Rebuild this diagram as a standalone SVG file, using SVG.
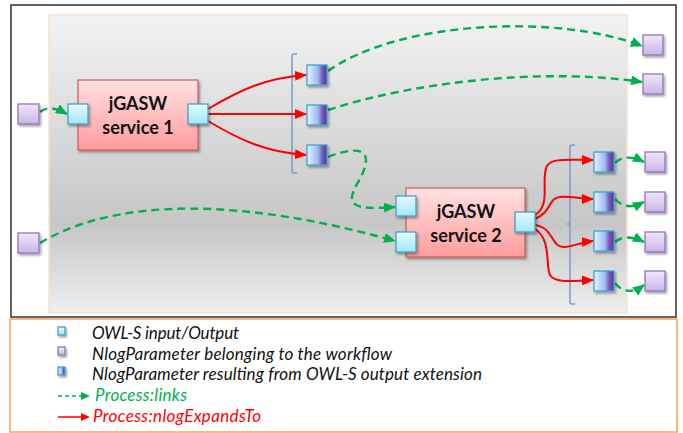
<svg xmlns="http://www.w3.org/2000/svg" width="683" height="433" viewBox="0 0 683 433">
<defs>
<style>
.svc{fill:url(#gSvc);stroke:#d05858;stroke-width:1.2}
.svct{font-family:Lato,"Liberation Sans",sans-serif;font-weight:bold;font-size:18px;fill:#111;text-anchor:middle}
.port{fill:url(#gPort);stroke:#3aa6c6;stroke-width:1.3}
.wf{fill:url(#gWf);stroke:#9474bc;stroke-width:1.3}
.ext{fill:url(#gExt);stroke:#3aa6c6;stroke-width:1.3}
.green{fill:none;stroke:#00b050;stroke-width:2.4;stroke-dasharray:8 5;marker-end:url(#ag)}
.red{fill:none;stroke:#ff0000;stroke-width:2;marker-end:url(#ar)}
.brk{fill:none;stroke:#7e9bc8;stroke-width:1.5}
.leg{font-family:Lato,"Liberation Sans",sans-serif;font-style:italic;font-size:17px;fill:#111}
.sh{filter:url(#sh)}
</style>
<linearGradient id="gPanel" x1="0" y1="0" x2="0" y2="1">
<stop offset="0" stop-color="#f3f3f3"/><stop offset="0.7" stop-color="#c6c6c6"/><stop offset="1" stop-color="#efefef"/>
</linearGradient>
<linearGradient id="gSvc" x1="0" y1="0" x2="0" y2="1">
<stop offset="0" stop-color="#ffe2e2"/><stop offset="1" stop-color="#ff9c9c"/>
</linearGradient>
<linearGradient id="gPort" x1="0" y1="0" x2="0" y2="1">
<stop offset="0" stop-color="#e6faff"/><stop offset="1" stop-color="#a2e6f8"/>
</linearGradient>
<linearGradient id="gWf" x1="0" y1="0" x2="0" y2="1">
<stop offset="0" stop-color="#efe8f8"/><stop offset="1" stop-color="#c8b6e6"/>
</linearGradient>
<linearGradient id="gExt" x1="0" y1="0" x2="1" y2="0">
<stop offset="0" stop-color="#eaf2ff"/><stop offset="0.55" stop-color="#98bcf0"/><stop offset="0.75" stop-color="#7a5cc0"/><stop offset="1" stop-color="#5a2e98"/>
</linearGradient>
<filter id="sh" x="-30%" y="-30%" width="170%" height="170%">
<feDropShadow dx="1.5" dy="2" stdDeviation="1.2" flood-color="#000" flood-opacity="0.35"/>
</filter>
<marker id="ag" markerUnits="userSpaceOnUse" markerWidth="12" markerHeight="10" refX="11" refY="5" orient="auto">
<path d="M0,0 L12,5 L0,10 z" fill="#00b050"/>
</marker>
<marker id="ar" markerUnits="userSpaceOnUse" markerWidth="12" markerHeight="10" refX="11" refY="5" orient="auto">
<path d="M0,0 L12,5 L0,10 z" fill="#ff0000"/>
</marker>
</defs>

<rect width="683" height="433" fill="#fff"/>
<rect x="11" y="5" width="665" height="312" fill="#fff" stroke="#333" stroke-width="1.5"/>
<rect x="49" y="15" width="578" height="298" fill="url(#gPanel)" stroke="#f8e2d2" stroke-width="1.5"/>
<rect x="10" y="319" width="667" height="113" fill="none" stroke="#f9a35c" stroke-width="1.5"/>

<g id="brackets">
<path class="brk" d="M297,54 L294,54 Q292,54 292,56 L292,171 Q292,173 294,173 L297,173"/>
<path class="brk" d="M575,145 L572,145 Q570,145 570,147 L570,302 Q570,304 572,304 L575,304 M567,224 L570,224"/>
</g>

<g id="connectors">
<path class="green" d="M40,112 C48,106 56,108 67,114"/>
<path class="green" d="M40,243 C120,195 250,200 395,241"/>
<path class="green" d="M328,71 C400,20 560,14 642,46"/>
<path class="green" d="M328,110 C420,80 550,68 642,82"/>
<path class="green" d="M328,157 C345,150 366,146 366,160 C366,175 350,190 352,200 C354,210 375,208 395,207"/>
<path class="green" d="M615,163 C622,156 632,156 644,162"/>
<path class="green" d="M615,199 C624,208 632,208 644,202"/>
<path class="green" d="M615,242 C622,236 632,236 644,242"/>
<path class="green" d="M615,283 C622,292 632,294 644,285"/>
<path class="red" d="M208,109 C240,90 265,78 306,75"/>
<path class="red" d="M208,114 L306,114"/>
<path class="red" d="M208,121 C240,140 265,152 306,155"/>
<path class="red" d="M535,215 C552,205 540,178 547,166 C552,158 565,160 593,160"/>
<path class="red" d="M535,219 C552,212 548,198 560,197 C572,196 580,199 593,199"/>
<path class="red" d="M535,225 C555,228 550,248 565,247 C575,246 582,242 593,241"/>
<path class="red" d="M535,229 C552,240 545,265 550,275 C555,283 570,281 593,280"/>
</g>

<g id="service1">
<rect class="svc sh" x="78" y="80" width="120" height="70"/>
<text class="svct" x="138" y="110">jGASW</text>
<text class="svct" x="138" y="134">service 1</text>
</g>
<g id="service2">
<rect class="svc sh" x="406" y="188" width="119" height="69"/>
<text class="svct" x="466" y="218">jGASW</text>
<text class="svct" x="466" y="242">service 2</text>
</g>

<g id="ports">
<rect class="port sh" x="68" y="104" width="20" height="20"/>
<rect class="port sh" x="188" y="104" width="20" height="20"/>
<rect class="port sh" x="396" y="196" width="20" height="20"/>
<rect class="port sh" x="396" y="232" width="20" height="20"/>
<rect class="port sh" x="515" y="212" width="20" height="20"/>
</g>

<g id="workflow-params">
<rect class="wf sh" x="18" y="104" width="21" height="20"/>
<rect class="wf sh" x="18" y="233" width="21" height="20"/>
<rect class="wf sh" x="643" y="35" width="20" height="20"/>
<rect class="wf sh" x="643" y="74" width="20" height="20"/>
<rect class="wf sh" x="645" y="152" width="20" height="20"/>
<rect class="wf sh" x="645" y="192" width="20" height="20"/>
<rect class="wf sh" x="645" y="232" width="20" height="20"/>
<rect class="wf sh" x="645" y="271" width="20" height="20"/>
</g>

<g id="ext-params">
<rect class="ext sh" x="307" y="65" width="20" height="20"/>
<rect class="ext sh" x="307" y="105" width="20" height="20"/>
<rect class="ext sh" x="307" y="145" width="20" height="20"/>
<rect class="ext sh" x="594" y="152" width="20" height="20"/>
<rect class="ext sh" x="594" y="192" width="20" height="20"/>
<rect class="ext sh" x="594" y="231" width="20" height="20"/>
<rect class="ext sh" x="594" y="271" width="20" height="20"/>
</g>

<g id="legend">
<rect class="port sh" x="58" y="327" width="7" height="8" stroke-width="0.8"/>
<text class="leg" x="92" y="339" textLength="147">OWL-S input/Output</text>
<rect class="wf sh" x="58" y="347" width="7" height="8" stroke-width="0.8"/>
<text class="leg" x="92" y="360" textLength="300">NlogParameter belonging to the workflow</text>
<rect class="ext sh" x="58" y="367" width="7" height="8" stroke-width="0.8"/>
<text class="leg" x="92" y="380" textLength="390">NlogParameter resulting from OWL-S output extension</text>
<path d="M58,396 L82,396" fill="none" stroke="#00b050" stroke-width="1.5" stroke-dasharray="4 3"/>
<path d="M81,392 L90,396 L81,400 z" fill="#00b050"/>
<text class="leg" x="95" y="401" textLength="92" style="fill:#00b050">Process:links</text>
<path d="M58,417 L82,417" fill="none" stroke="#ff0000" stroke-width="1.5"/>
<path d="M81,413 L90,417 L81,421 z" fill="#ff0000"/>
<text class="leg" x="93" y="422" textLength="168" style="fill:#ff0000">Process:nlogExpandsTo</text>
</g>
</svg>
